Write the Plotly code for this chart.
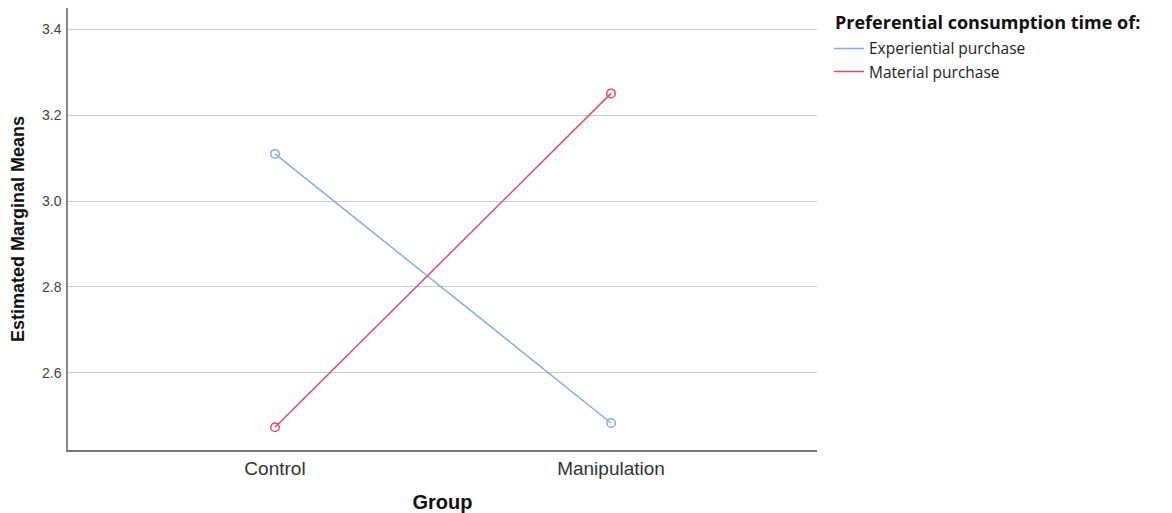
import plotly.graph_objects as go

groups = ["Control", "Manipulation"]
experiential = [3.11, 2.483]
material = [2.473, 3.251]
y_ticks = [2.6, 2.8, 3.0, 3.2, 3.4]
series_names = ["Experiential purchase", "Material purchase"]
legend_title = "Preferential consumption time of:"

blue = "#84aee9"
red = "#e84a64"

fig = go.Figure()
for name, vals, col in [(series_names[0], experiential, blue), (series_names[1], material, red)]:
    fig.add_trace(go.Scatter(
        x=groups, y=vals, name=name, mode="lines+markers", showlegend=False,
        line=dict(color=col, width=1.5),
        marker=dict(symbol="circle-open", size=8.5, color=col, line=dict(width=1.5)),
    ))
    # legend entry shows only a line, as in the reference
    fig.add_trace(go.Scatter(
        x=[None], y=[None], name=name, mode="lines",
        line=dict(color=col, width=1.5),
    ))

# the page body has an 8px default margin, so the figure is sized to fit inside it
fig.update_layout(
    width=1164, height=505,
    margin=dict(l=60, r=355, t=0, b=63, autoexpand=False),
    plot_bgcolor="white", paper_bgcolor="white",
    font=dict(family="Liberation Sans, Arial, sans-serif", color="#333"),
    showlegend=True,
    legend=dict(
        x=1.016, y=0.946, xanchor="left", yanchor="top",
        font=dict(family="Open Sans, sans-serif", size=15.5, color="#222"),
        itemwidth=30, tracegroupgap=0,
        bgcolor="rgba(0,0,0,0)",
    ),
    annotations=[dict(
        text="<b>" + legend_title + "</b>", x=1.022, y=1.0, xref="paper", yref="paper",
        xanchor="left", yanchor="top", showarrow=False,
        font=dict(family="Open Sans, sans-serif", size=18, color="#111"),
    )],
)
fig.update_xaxes(
    type="category", range=[-0.616, 1.613], automargin=False,
    showline=True, linecolor="#777", linewidth=1.5, mirror=False,
    showgrid=False, ticks="",
    tickfont=dict(size=19, color="#333"),
    title=dict(text="<b>Group</b>", font=dict(size=20, color="#111"), standoff=18),
)
fig.update_yaxes(
    range=[2.42, 3.45], tickvals=y_ticks, ticktext=[f"{v:.1f}" for v in y_ticks],
    automargin=False,
    showline=True, linecolor="#888", linewidth=1.5,
    showgrid=True, gridcolor="#cccccc", gridwidth=1.2, zeroline=False, ticks="",
    tickfont=dict(size=14, color="#444"),
    ticklabelstandoff=2,
    title=dict(text="<b>Estimated Marginal Means</b>", font=dict(size=18, color="#111"), standoff=14),
)
fig.write_html("out.html")
